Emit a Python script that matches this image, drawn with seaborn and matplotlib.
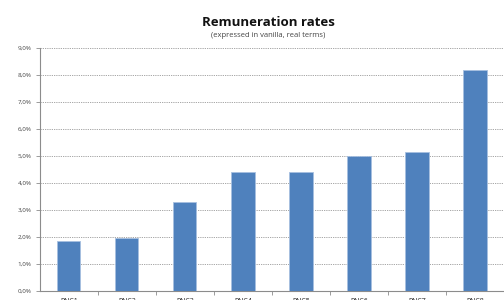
import matplotlib
matplotlib.use("Agg")
import matplotlib.pyplot as plt
import seaborn as sns
import pandas as pd
from matplotlib.ticker import FuncFormatter, FixedLocator

categories = ["PNC1", "PNC2", "PNC3", "PNC4", "PNC5", "PNC6", "PNC7", "PNC8"]
rates = [1.85, 1.95, 3.3, 4.4, 4.4, 5.0, 5.15, 8.2]
yticks = [0, 1, 2, 3, 4, 5, 6, 7, 8, 9]

df = pd.DataFrame({"cat": categories, "rate": rates})

sns.set_theme(style="white")
plt.rcParams['font.family'] = ['Open Sans', 'DejaVu Sans']

fig = plt.figure(figsize=(5.04, 3.0), dpi=100)
ax = fig.add_axes([0.079, 0.03, 0.921, 0.81])

sns.barplot(data=df, x="cat", y="rate", color="#4F81BD", width=0.4,
            edgecolor="#A7C0E0", linewidth=0.6, saturation=1, ax=ax, zorder=3)

ax.set_ylim(0, 9)
ax.set_xlim(-0.5, 7.5)
ax.yaxis.set_major_locator(FixedLocator(yticks))
ax.yaxis.set_major_formatter(FuncFormatter(lambda v, p: f"{v:.1f}%".replace(".", ",")))
ax.grid(axis="y", linestyle=(0, (1.5, 1.2)), color="#9a9a9a", linewidth=0.6, zorder=0)
ax.set_axisbelow(True)

for s in ["top", "right"]:
    ax.spines[s].set_visible(False)
ax.spines["left"].set_color("#8c8c8c")
ax.spines["bottom"].set_color("#8c8c8c")
ax.spines["left"].set_linewidth(0.8)
ax.spines["bottom"].set_linewidth(0.8)

ax.tick_params(axis="y", labelsize=4.5, length=3, width=0.6, color="#8c8c8c",
               direction="out", left=True, pad=3)
for lbl in ax.get_yticklabels():
    lbl.set_color("#444444")
ax.tick_params(axis="x", labelsize=5, length=0, pad=5)
ax.set_xticks(range(len(categories)))
ax.set_xticks([i + 0.5 for i in range(len(categories) - 1)], minor=True)
ax.tick_params(axis="x", which="minor", length=3, width=0.6, color="#8c8c8c", bottom=True)
for lbl in ax.get_xticklabels():
    lbl.set_color("#222222")
ax.set_xlabel("")
ax.set_ylabel("")

fig.text(0.532, 0.925, "Remuneration rates", ha="center", va="center",
         fontsize=9.5, fontweight="bold", color="#111111")
fig.text(0.532, 0.882, "(expressed in vanilla, real terms)", ha="center", va="center",
         fontsize=5.5, color="#444444")

fig.savefig("out.png", dpi=100)
